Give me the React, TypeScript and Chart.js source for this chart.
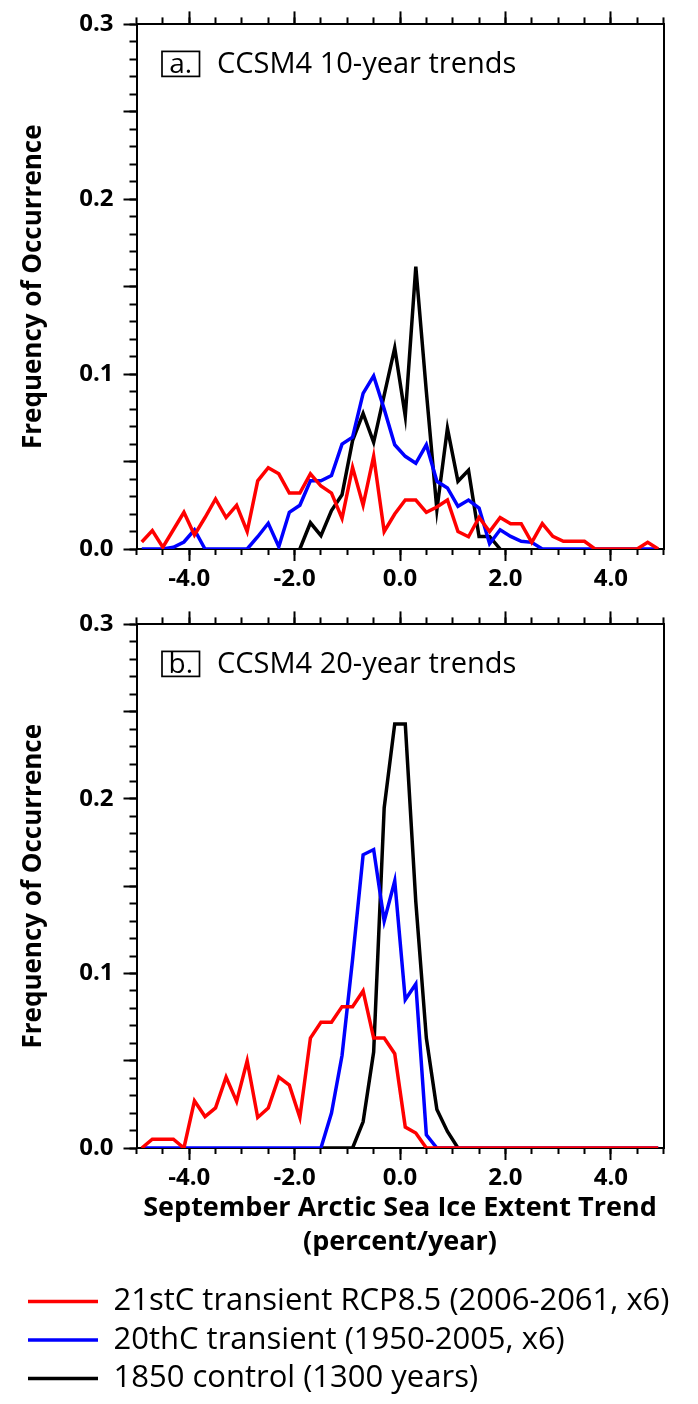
import React, { useEffect, useRef } from "react";
import { Chart, registerables } from "chart.js";

Chart.register(...registerables);

// ---------------- data ----------------
const X_BINS = [
  -4.9, -4.7, -4.5, -4.3, -4.1, -3.9, -3.7, -3.5, -3.3, -3.1,
  -2.9, -2.7, -2.5, -2.3, -2.1, -1.9, -1.7, -1.5, -1.3, -1.1,
  -0.9, -0.7, -0.5, -0.3, -0.1, 0.1, 0.3, 0.5, 0.7, 0.9,
  1.1, 1.3, 1.5, 1.7, 1.9, 2.1, 2.3, 2.5, 2.7, 2.9,
  3.1, 3.3, 3.5, 3.7, 3.9, 4.1, 4.3, 4.5, 4.7, 4.9,
];

// panel a: 10-year trends
const RED_10YR = [
  0.004, 0.0105, 0.001, 0.011, 0.021, 0.008, 0.018, 0.0286, 0.018, 0.025,
  0.010, 0.039, 0.0465, 0.043, 0.032, 0.032, 0.043, 0.036, 0.032, 0.0175,
  0.0467, 0.025, 0.053, 0.010, 0.020, 0.028, 0.028, 0.021, 0.024, 0.028,
  0.010, 0.007, 0.018, 0.010, 0.018, 0.0145, 0.0145, 0.0038, 0.0145, 0.0072,
  0.0044, 0.0044, 0.0044, 0, 0, 0, 0, 0, 0.0038, 0,
];
const BLUE_10YR = [
  0, 0, 0, 0.001, 0.004, 0.011, 0, 0, 0, 0,
  0, 0.007, 0.0147, 0.0013, 0.021, 0.025, 0.039, 0.039, 0.042, 0.060,
  0.064, 0.089, 0.099, 0.080, 0.0596, 0.053, 0.049, 0.0596, 0.0387, 0.0349,
  0.0244, 0.028, 0.0234, 0.003, 0.011, 0.0072, 0.0044, 0.0038, 0, 0,
  0, 0, 0, 0, 0, 0, 0, 0, 0, 0,
];
const BLACK_10YR = [
  null, null, null, null, null, null, null, null, null, null,
  null, null, null, null, null, 0, 0.015, 0.0076, 0.022, 0.031,
  0.062, 0.0775, 0.061, 0.088, 0.115, 0.076, 0.1615, 0.09, 0.0225, 0.069,
  0.0387, 0.045, 0.0072, 0.0072, 0, null, null, null, null, null,
  null, null, null, null, null, null, null, null, null, null,
];

// panel b: 20-year trends
const RED_20YR = [
  0, 0.005, 0.005, 0.005, 0, 0.027, 0.018, 0.023, 0.0406, 0.0267,
  0.050, 0.0175, 0.0229, 0.0406, 0.036, 0.0175, 0.063, 0.072, 0.072, 0.081,
  0.081, 0.090, 0.063, 0.063, 0.054, 0.012, 0.0086, 0, 0, 0,
  0, 0, 0, 0, 0, 0, 0, 0, 0, 0,
  0, 0, 0, 0, 0, 0, 0, 0, 0, 0,
];
const BLUE_20YR = [
  0, 0, 0, 0, 0, 0, 0, 0, 0, 0,
  0, 0, 0, 0, 0, 0, 0, 0, 0.02, 0.053,
  0.108, 0.168, 0.171, 0.130, 0.153, 0.085, 0.094, 0.0076, 0, 0,
  0, 0, 0, 0, 0, 0, 0, 0, 0, 0,
  0, 0, 0, 0, 0, 0, 0, 0, 0, 0,
];
const BLACK_20YR = [
  null, null, null, null, null, null, null, null, null, null,
  null, null, null, null, null, null, null, 0, 0, 0,
  0, 0.015, 0.055, 0.195, 0.243, 0.243, 0.141, 0.063, 0.022, 0.0095,
  0, null, null, null, null, null, null, null, null, null,
  null, null, null, null, null, null, null, null, null, null,
];

const SERIES_NAMES = [
  "21stC transient RCP8.5 (2006-2061, x6)",
  "20thC transient (1950-2005, x6)",
  "1850 control (1300 years)",
];
const SERIES_COLORS = ["#ff0000", "#0000ff", "#000000"];

const X_MAJOR_TICKS = [-4, -2, 0, 2, 4];
const X_TICK_LABELS = ["-4.0", "-2.0", "0.0", "2.0", "4.0"];
const X_MINOR_TICKS = [
  -5, -4.5, -4, -3.5, -3, -2.5, -2, -1.5, -1, -0.5, 0,
  0.5, 1, 1.5, 2, 2.5, 3, 3.5, 4, 4.5, 5,
];
const Y_MAJOR_TICKS = [0, 0.05, 0.1, 0.15, 0.2, 0.25, 0.3];
const Y_TICK_LABELS = ["0.0", "", "0.1", "", "0.2", "", "0.3"];
const Y_MINOR_TICKS = Array.from({ length: 31 }, (_, i) => i / 100);

const PANEL_TAGS = ["a.", "b."];
const PANEL_TITLES = ["CCSM4 10-year trends", "CCSM4 20-year trends"];
const Y_TITLE = "Frequency of Occurrence";
const X_TITLE = ["September Arctic Sea Ice Extent Trend", "(percent/year)"];

// ---------------- styling ----------------
const FONT = '"Open Sans", "Noto Sans", "DejaVu Sans", sans-serif';
const W = 698;
const PAD_LEFT = 20.5;
const AREA_LEFT = 136.5;
const RIGHT_GAP = 34.5;

const panelLabelPlugin = {
  id: "panelLabel",
  afterDraw(chart: any, _args: any, opts: any) {
    const { ctx, chartArea } = chart;
    ctx.save();
    const bx = chartArea.left + 25.5;
    const by = chartArea.top + 27;
    const bw = 37.5;
    const bh = 25;
    ctx.lineWidth = 1.7;
    ctx.strokeStyle = "#000";
    ctx.strokeRect(bx, by, bw, bh);
    ctx.fillStyle = "#000";
    ctx.font = `28px ${FONT}`;
    ctx.textBaseline = "alphabetic";
    ctx.textAlign = "center";
    ctx.fillText(opts.tag, bx + bw / 2, by + 22);
    ctx.font = `29px ${FONT}`;
    ctx.textAlign = "left";
    ctx.fillText(opts.title, chartArea.left + 80.5, by + 22);
    ctx.restore();
  },
};

function setTicks(values: number[]) {
  return (s: any) => {
    s.ticks = values.map((v) => ({ value: v }));
  };
}

function buildConfig(panel: number, series: (number | null)[][], isBottom: boolean): any {
  const datasets = series.map((vals, k) => ({
    label: SERIES_NAMES[k],
    data: X_BINS.map((x, i) => ({ x, y: vals[i] })),
    borderColor: SERIES_COLORS[k],
    backgroundColor: SERIES_COLORS[k],
    borderWidth: 3.5,
    pointRadius: 0,
    pointHoverRadius: 0,
    tension: 0,
    fill: false,
    spanGaps: false,
    xAxisID: "x",
    yAxisID: "y",
  }));

  const tickFont = { family: FONT, size: 24, weight: "bold" };
  const xHeight = isBottom ? 130.5 : 51;

  return {
    type: "line",
    data: { datasets },
    plugins: [panelLabelPlugin],
    options: {
      responsive: false,
      animation: false,
      devicePixelRatio: 1,
      events: [],
      layout: {
        padding: {
          left: PAD_LEFT,
          right: 0,
          top: isBottom ? 21.5 : 23,
          bottom: 0,
        },
      },
      plugins: {
        tooltip: { enabled: false },
        title: { display: false },
        panelLabel: { tag: PANEL_TAGS[panel], title: PANEL_TITLES[panel] },
        legend: isBottom
          ? {
              display: true,
              position: "bottom",
              align: "start",
              labels: {
                usePointStyle: true,
                pointStyle: "line",
                pointStyleWidth: 70,
                font: { family: FONT, size: 31 },
                color: "#000",
                padding: 7.5,
              },
            }
          : { display: false },
      },
      scales: {
        x: {
          type: "linear",
          position: "bottom",
          min: -5,
          max: 5,
          weight: 1,
          afterBuildTicks: setTicks(X_MAJOR_TICKS),
          afterFit: (s: any) => {
            s.height = xHeight;
          },
          ticks: {
            autoSkip: false,
            maxRotation: 0,
            minRotation: 0,
            padding: 4,
            color: "#000",
            font: tickFont,
            callback: (_v: any, i: number) => X_TICK_LABELS[i],
          },
          grid: {
            display: true,
            drawOnChartArea: false,
            drawTicks: true,
            tickLength: 12,
            tickWidth: 2,
            tickColor: "#000",
          },
          border: { display: true, color: "#000", width: 2 },
          title: isBottom
            ? {
                display: true,
                text: X_TITLE,
                color: "#000",
                font: { family: FONT, size: 27, weight: "bold", lineHeight: "34px" },
                padding: { top: 0, bottom: 19 },
              }
            : { display: false },
        },
        xMinor: {
          type: "linear",
          position: "bottom",
          min: -5,
          max: 5,
          weight: 0,
          afterBuildTicks: setTicks(X_MINOR_TICKS),
          afterFit: (s: any) => {
            s.height = 0;
          },
          ticks: { display: false, autoSkip: false },
          grid: {
            display: true,
            drawOnChartArea: false,
            drawTicks: true,
            tickLength: 6,
            tickWidth: 2,
            tickColor: "#000",
          },
          border: { display: true, color: "#000", width: 2 },
        },
        xTop: {
          type: "linear",
          position: "top",
          min: -5,
          max: 5,
          weight: 1,
          afterBuildTicks: setTicks(X_MAJOR_TICKS),
          afterFit: (s: any) => {
            s.height = 0;
          },
          ticks: { display: false, autoSkip: false },
          grid: {
            display: true,
            drawOnChartArea: false,
            drawTicks: true,
            tickLength: 13,
            tickWidth: 2,
            tickColor: "#000",
          },
          border: { display: true, color: "#000", width: 2 },
        },
        xTopMinor: {
          type: "linear",
          position: "top",
          min: -5,
          max: 5,
          weight: 0,
          afterBuildTicks: setTicks(X_MINOR_TICKS),
          afterFit: (s: any) => {
            s.height = 0;
          },
          ticks: { display: false, autoSkip: false },
          grid: {
            display: true,
            drawOnChartArea: false,
            drawTicks: true,
            tickLength: 7,
            tickWidth: 2,
            tickColor: "#000",
          },
          border: { display: true, color: "#000", width: 2 },
        },
        y: {
          type: "linear",
          position: "left",
          min: 0,
          max: 0.3,
          weight: 1,
          afterBuildTicks: setTicks(Y_MAJOR_TICKS),
          afterFit: (s: any) => {
            s.width = AREA_LEFT - PAD_LEFT;
          },
          ticks: {
            autoSkip: false,
            padding: 10,
            color: "#000",
            font: tickFont,
            callback: (_v: any, i: number) => Y_TICK_LABELS[i],
          },
          grid: {
            display: true,
            drawOnChartArea: false,
            drawTicks: true,
            tickLength: 13,
            tickWidth: 2,
            tickColor: "#000",
          },
          border: { display: true, color: "#000", width: 2 },
          title: {
            display: true,
            text: Y_TITLE,
            color: "#000",
            font: { family: FONT, size: 26, weight: "bold", lineHeight: 1 },
            padding: { top: 0, bottom: 0 },
          },
        },
        yMinor: {
          type: "linear",
          position: "left",
          min: 0,
          max: 0.3,
          weight: 0,
          afterBuildTicks: setTicks(Y_MINOR_TICKS),
          afterFit: (s: any) => {
            s.width = 0;
          },
          ticks: { display: false, autoSkip: false },
          grid: {
            display: true,
            drawOnChartArea: false,
            drawTicks: true,
            tickLength: 7,
            tickWidth: 2,
            tickColor: "#000",
          },
          border: { display: true, color: "#000", width: 2 },
        },
        yRight: {
          type: "linear",
          position: "right",
          min: 0,
          max: 0.3,
          afterFit: (s: any) => {
            s.width = RIGHT_GAP;
          },
          ticks: { display: false },
          grid: { display: true, drawOnChartArea: false, drawTicks: false },
          border: { display: true, color: "#000", width: 2 },
        },
      },
    },
  };
}

function Panel({ panel, series, isBottom, top, height }: any) {
  const ref = useRef<HTMLCanvasElement | null>(null);
  useEffect(() => {
    if (!ref.current) return;
    const chart = new Chart(ref.current, buildConfig(panel, series, isBottom));
    return () => chart.destroy();
  }, []);
  return (
    <canvas
      ref={ref}
      width={W}
      height={height}
      style={{ position: "absolute", left: 0, top, width: W, height, display: "block" }}
    />
  );
}

export default function App() {
  return (
    <div
      style={{
        position: "absolute",
        left: 0,
        top: 0,
        width: W,
        height: 1404,
        background: "#fff",
        overflow: "hidden",
      }}
    >
      <Panel panel={0} series={[RED_10YR, BLUE_10YR, BLACK_10YR]} isBottom={false} top={0} height={600} />
      <Panel panel={1} series={[RED_20YR, BLUE_20YR, BLACK_20YR]} isBottom={true} top={600} height={804} />
    </div>
  );
}
